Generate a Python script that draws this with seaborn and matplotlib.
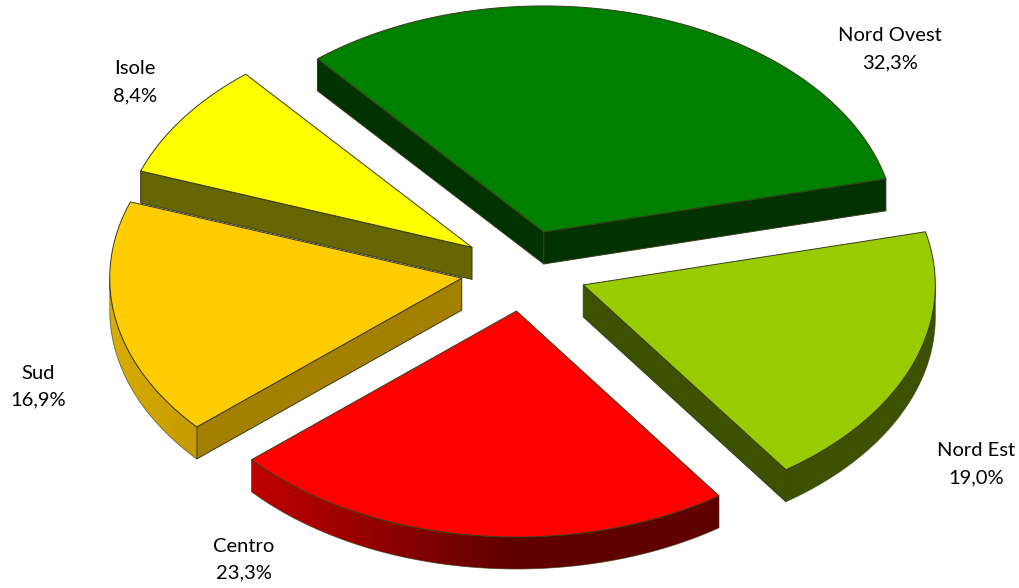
import numpy as np
import matplotlib
matplotlib.use("Agg")
import matplotlib.pyplot as plt
import matplotlib.colors as mc
from matplotlib.patches import Polygon
import seaborn as sns

# Data
regions = ["Nord Ovest", "Nord Est", "Centro", "Sud", "Isole"]
shares = [32.3, 19.0, 23.3, 16.9, 8.4]
share_labels = ["32,3%", "19,0%", "23,3%", "16,9%", "8,4%"]

# Styles
top_colors = ["#008000", "#99CC00", "#FF0000", "#FFCC00", "#FFFF00"]
wall_colors = ["#003300", "#3D5200", "#660000", "#A38000", "#666600"]
rim_left = ["#003300", "#3D5200", "#C00000", "#D9AD00", "#666600"]
rim_right = ["#003300", "#3D5200", "#600000", "#C49A00", "#666600"]
rim_stop = [1.0, 1.0, 0.55, 1.0, 1.0]
label_pos = [(890, 49), (976, 464), (244, 559.5), (38, 386.5), (135, 82)]

sns.set_theme(style="white")
plt.rcParams["font.family"] = ["Lato", "DejaVu Sans"]
palette = sns.color_palette(top_colors)

# Projection of the tilted pie onto the page
CX, CY, A, B = 524.0, 270.6, 352.0, 226.0
EXPLODE, DEPTH, START = 0.18, 32.0, -40.0
EDGE = "#3a3a1c"

fig, ax = plt.subplots(figsize=(10.2, 5.88), dpi=100)
fig.subplots_adjust(0, 0, 1, 1)
ax.axis("off")


def rim(t):
    t = np.radians(t)
    return A * np.sin(t), -B * np.cos(t)


bounds = START + np.concatenate([[0], np.cumsum(shares)]) / np.sum(shares) * 360
for i in range(len(shares)):  # Isole comes after Sud: its wall overlaps Sud's top
    t0, t1 = bounds[i], bounds[i + 1]
    mid = (t0 + t1) / 2
    ox, oy = rim(mid)
    x0, y0 = CX + EXPLODE * ox, CY + EXPLODE * oy
    ts = np.linspace(t0, t1, 240)
    rx, ry = rim(ts)
    rx, ry = rx + x0, ry + y0

    # radial walls: a wall shows when stepping down from its edge leaves the slice
    mx, my = x0 + 0.5 * ox, y0 + 0.5 * oy
    for k in (0, -1):
        dx, dy = rx[k] - x0, ry[k] - y0
        inside = dx * (my - y0) - dy * (mx - x0)
        down = dx * 1.0
        if inside * down < 0:
            ax.fill([x0, rx[k], rx[k], x0], [y0, ry[k], ry[k] + DEPTH, y0 + DEPTH],
                    fc=wall_colors[i], ec=EDGE, lw=0.7, zorder=i * 10 + 1,
                    joinstyle="round")

    # outer wall, only the part facing the viewer, shaded along x
    facing = np.cos(np.radians(ts)) < 0.0
    if facing.any():
        fx, fy = rx[facing], ry[facing]
        poly = np.c_[np.r_[fx, fx[::-1]], np.r_[fy, fy[::-1] + DEPTH]]
        lo, hi = fx.min(), fx.max()
        cmap = mc.LinearSegmentedColormap.from_list("rim", [rim_left[i], rim_right[i]])
        grad = np.clip(np.linspace(0, 1, 400) / rim_stop[i], 0, 1)[None, :]
        im = ax.imshow(grad, cmap=cmap, vmin=0, vmax=1, aspect="auto",
                       extent=(lo, hi, poly[:, 1].max(), poly[:, 1].min()),
                       interpolation="bilinear", zorder=i * 10 + 2)
        patch = Polygon(poly, closed=True, transform=ax.transData, fc="none", ec="none")
        ax.add_patch(patch)
        im.set_clip_path(patch)
        ax.add_patch(Polygon(poly, closed=True, fc="none", ec=EDGE, lw=0.6, alpha=0.7,
                             zorder=i * 10 + 3))

    # top face
    ax.fill(np.r_[x0, rx], np.r_[y0, ry], fc=palette[i], ec=EDGE, lw=0.7,
            zorder=i * 10 + 4, joinstyle="round")

ax.set_xlim(0, 1020)
ax.set_ylim(588, 0)

for name, lab, (lx, ly) in zip(regions, share_labels, label_pos):
    ax.text(lx, ly, f"{name}\n{lab}", ha="center", va="center", fontsize=14.5,
            color="black", linespacing=1.7, zorder=100)

fig.savefig("out.png", dpi=100)
